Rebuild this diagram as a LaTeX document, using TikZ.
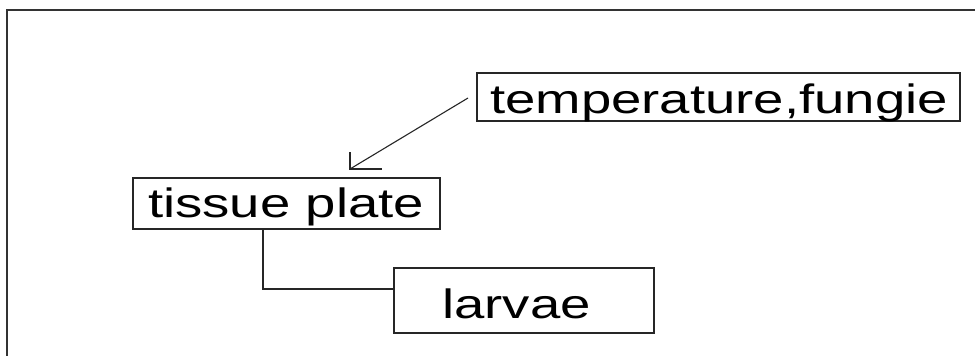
\documentclass[tikz,border=0pt]{standalone}
\usepackage{fontspec}
\newfontfamily\boxfont[FakeStretch=1.33]{Liberation Sans}
\begin{document}
\begin{tikzpicture}[x=1pt,y=-1pt,
  box/.style={draw=black!85, line width=1.3pt, rectangle, inner sep=0pt},
  lbl/.style={anchor=base west, inner sep=0pt, font=\boxfont\fontsize{41}{41}\selectfont},
  wire/.style={draw=black!85, line width=1.1pt}]
\useasboundingbox (0,0) rectangle (975,356);
\fill[white] (0,0) rectangle (975,356);
% frame, open at the right and bottom
\draw[black!80, line width=2pt] (7,356) -- (7,10) -- (975,10);

% boxes
\node[box, minimum width=483pt, minimum height=48pt] (temp) at (718.5,97) {};
\node[box, minimum width=307pt, minimum height=51pt] (tissue) at (286.5,203.5) {};
\node[box, minimum width=260pt, minimum height=65pt] (larvae) at (524,300.5) {};

% labels
\node[lbl] (ttemp) at (490,113) {temperature,fungie};
\node[lbl] (ttissue) at (148,217) {tissue plate};
\node[lbl] (tlarvae) at (442,318) {larvae};

% arrow into the tissue plate, with an open L-shaped head
\coordinate (astart) at (468,98);
\coordinate (atip) at (350,169);
\draw[wire] (astart) -- (atip);
\draw[wire] ([yshift=17pt]atip) -- (atip) -- ([xshift=32pt]atip);

% elbow connector down to larvae
\coordinate (elbow) at (263,289);
\draw[wire] (tissue.south -| elbow) -- (elbow) -- (elbow -| larvae.west);
\end{tikzpicture}
\end{document}
